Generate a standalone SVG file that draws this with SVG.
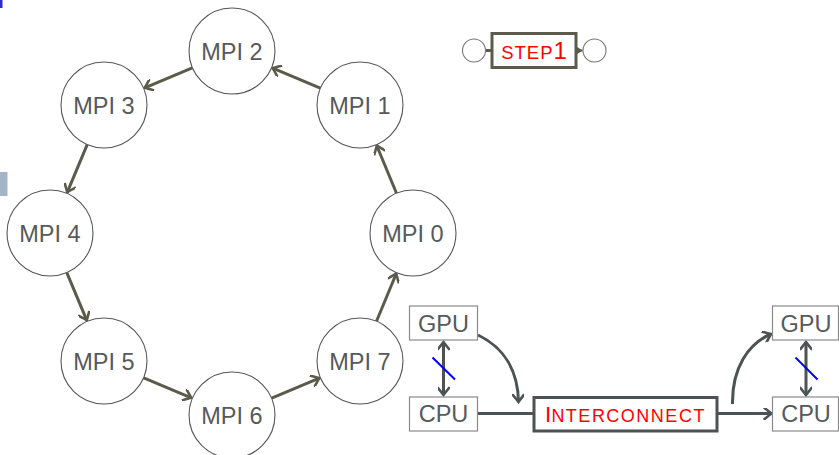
<svg xmlns="http://www.w3.org/2000/svg" width="839" height="455" viewBox="0 0 839 455">
<style>
.node circle{fill:#fff;stroke:#555;stroke-width:1.1}
.lbl{font-family:"Liberation Sans",Arial,sans-serif;font-size:23.5px;fill:#555a5c;text-anchor:middle}
.ring{stroke:#5b5b4b;stroke-width:3;fill:none;marker-end:url(#ah)}
.box{fill:#fff;stroke:#8a8a8a;stroke-width:1.2}
.dk{stroke:#4d5353;stroke-width:3;fill:none}
.red{font-family:"Liberation Sans",Arial,sans-serif;fill:#ff0000}
</style>
<defs>
<marker id="ah" markerWidth="12" markerHeight="12" refX="0" refY="0" viewBox="-10 -6 12 12" orient="auto" markerUnits="userSpaceOnUse">
<path d="M-7,-5.5 Q-2,-1.5 0,0 Q-2,1.5 -7,5.5" fill="none" stroke="#5b5b4b" stroke-width="2.6" stroke-linecap="round"/>
</marker>
<marker id="ahd" markerWidth="12" markerHeight="12" refX="0" refY="0" viewBox="-10 -6 12 12" orient="auto-start-reverse" markerUnits="userSpaceOnUse">
<path d="M-7,-5.5 Q-2,-1.5 0,0 Q-2,1.5 -7,5.5" fill="none" stroke="#4d5353" stroke-width="2.6" stroke-linecap="round"/>
</marker>
<marker id="tri" markerWidth="8" markerHeight="8" refX="0" refY="0" viewBox="-7 -4 8 8" orient="auto" markerUnits="userSpaceOnUse">
<path d="M-6,-4 L0,0 L-6,4 Z" fill="#5b5b4b"/>
</marker>
</defs>
<rect width="839" height="455" fill="#fff"/>
<rect x="0" y="0" width="2.5" height="8" fill="#2a2ad0"/>
<rect x="0" y="172" width="7.5" height="24" fill="#a5b5c8"/>

<g id="connectors">
<line class="ring" x1="396.5" y1="193.3" x2="376.8" y2="145.7"/>
<line class="ring" x1="320.3" y1="88.2" x2="272.7" y2="68.2"/>
<line class="ring" x1="192.3" y1="67.8" x2="144.7" y2="87.8"/>
<line class="ring" x1="87.2" y1="144.7" x2="67.2" y2="192.3"/>
<line class="ring" x1="66.8" y1="272.7" x2="86.8" y2="320.3"/>
<line class="ring" x1="143.7" y1="377.8" x2="191.3" y2="397.8"/>
<line class="ring" x1="271.7" y1="398.2" x2="319.3" y2="378.2"/>
<line class="ring" x1="376.5" y1="321.3" x2="396.2" y2="273.7"/>
<line x1="485.5" y1="50.5" x2="491" y2="50.5" stroke="#5b5b4b" stroke-width="3"/>
<line x1="577" y1="50.5" x2="582.5" y2="50.5" stroke="#5b5b4b" stroke-width="2" marker-end="url(#tri)"/>
<line class="dk" x1="443.5" y1="342" x2="443.5" y2="395" marker-start="url(#ahd)" marker-end="url(#ahd)"/>
<line x1="432.5" y1="357.5" x2="455" y2="379.5" stroke="#0000ff" stroke-width="2"/>
<path class="dk" d="M478,335 C505,348 518,372 518.5,402" marker-end="url(#ahd)"/>
<line class="dk" x1="478" y1="413.5" x2="533" y2="413.5"/>
<line class="dk" x1="718" y1="413.5" x2="771.5" y2="413.5" marker-end="url(#ahd)"/>
<path class="dk" d="M732.5,404 C732,368 748,344 771,334" marker-end="url(#ahd)"/>
<line class="dk" x1="806" y1="342" x2="806" y2="395" marker-start="url(#ahd)" marker-end="url(#ahd)"/>
<line x1="795.5" y1="357.5" x2="817.5" y2="379.5" stroke="#0000ff" stroke-width="2"/>
</g>

<g id="mpi0" class="node"><circle cx="413" cy="233" r="43"/><text class="lbl" x="413" y="242">MPI 0</text></g>
<g id="mpi1" class="node"><circle cx="360" cy="105" r="43"/><text class="lbl" x="360" y="114">MPI 1</text></g>
<g id="mpi2" class="node"><circle cx="232" cy="51" r="43"/><text class="lbl" x="232" y="60">MPI 2</text></g>
<g id="mpi3" class="node"><circle cx="104" cy="105" r="43"/><text class="lbl" x="104" y="114">MPI 3</text></g>
<g id="mpi4" class="node"><circle cx="50" cy="233" r="43"/><text class="lbl" x="50" y="242">MPI 4</text></g>
<g id="mpi5" class="node"><circle cx="104" cy="361" r="43"/><text class="lbl" x="104" y="370">MPI 5</text></g>
<g id="mpi6" class="node"><circle cx="232" cy="415" r="43"/><text class="lbl" x="232" y="424">MPI 6</text></g>
<g id="mpi7" class="node"><circle cx="360" cy="361" r="43"/><text class="lbl" x="360" y="370">MPI 7</text></g>

<g id="step1">
<circle cx="474" cy="50.5" r="11.5" fill="#fff" stroke="#777" stroke-width="1.1"/>
<circle cx="594.5" cy="50.5" r="11.5" fill="#fff" stroke="#777" stroke-width="1.1"/>
<rect x="492" y="33.5" width="84" height="34" fill="#fff" stroke="#5b5b4b" stroke-width="3"/>
<text class="red" x="534" y="58.5" text-anchor="middle"><tspan font-size="18.5" letter-spacing="1">STEP</tspan><tspan font-size="24">1</tspan></text>
</g>

<g id="gpu-left"><rect class="box" x="409.5" y="306" width="68" height="34"/><text class="lbl" x="443.5" y="332" font-size="23">GPU</text></g>
<g id="cpu-left"><rect class="box" x="409.5" y="397" width="68" height="34"/><text class="lbl" x="443.5" y="422" font-size="23">CPU</text></g>
<g id="interconnect">
<rect x="534" y="397.5" width="183" height="33.5" fill="#fff" stroke="#4d5353" stroke-width="3"/>
<text class="red" x="625.5" y="421.7" text-anchor="middle"><tspan font-size="22.5">I</tspan><tspan font-size="18" letter-spacing="1.5">NTERCONNECT</tspan></text>
</g>
<g id="gpu-right"><rect class="box" x="772.5" y="306" width="66" height="34"/><text class="lbl" x="806" y="332" font-size="23">GPU</text></g>
<g id="cpu-right"><rect class="box" x="772.5" y="397" width="66" height="34"/><text class="lbl" x="806" y="422" font-size="23">CPU</text></g>
</svg>
